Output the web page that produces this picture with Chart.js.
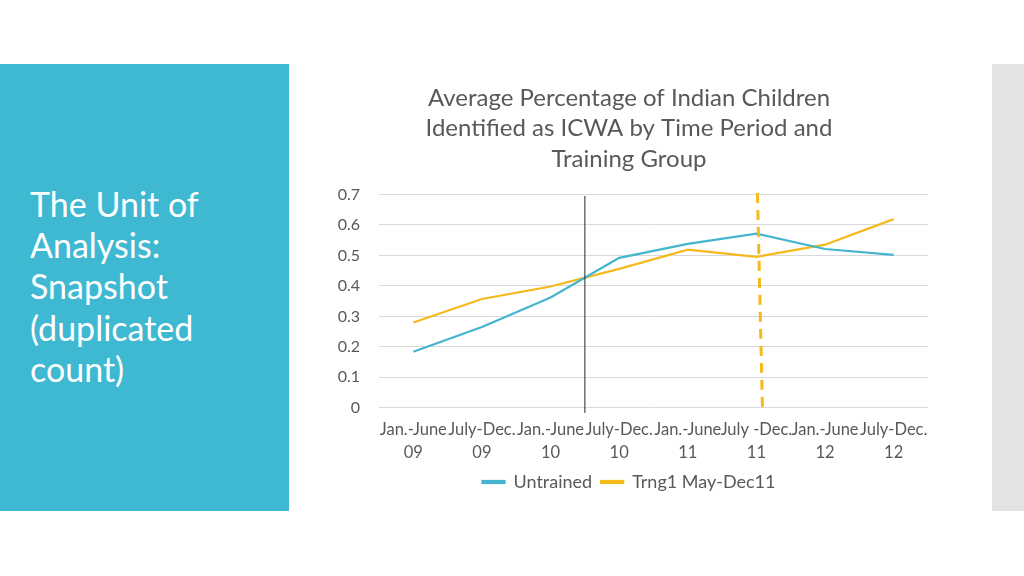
<!DOCTYPE html>
<html>
<head>
<meta charset="utf-8">
<script src="https://cdn.jsdelivr.net/npm/chart.js@4.4.1/dist/chart.umd.min.js"></script>
<style>
  html, body { margin: 0; padding: 0; width: 1024px; height: 576px; background: #ffffff; overflow: hidden; font-family: Lato, "Open Sans", sans-serif; }
  #leftPanel { position: absolute; left: 0; top: 64px; width: 289px; height: 447px; background: #3fb8d2; }
  #leftText { position: absolute; left: 30px; top: 183px; color: #ffffff; font-family: Lato, sans-serif; font-size: 34px; line-height: 41.2px; }
  #rightPanel { position: absolute; left: 992px; top: 64px; width: 32px; height: 447px; background: #e3e3e3; }
  #chartBox { position: absolute; left: 330px; top: 80px; width: 600px; height: 432px; }
</style>
</head>
<body>
<div id="leftPanel"></div>
<div id="leftText">The Unit of<br>Analysis:<br>Snapshot<br>(duplicated<br>count)</div>
<div id="rightPanel"></div>
<div id="chartBox"><canvas id="c"></canvas></div>
<script>
const categories = [
  ["Jan.-June", "09"], ["July-Dec.", "09"], ["Jan.-June", "10"], ["July-Dec.", "10"],
  ["Jan.-June", "11"], ["July -Dec.", "11"], ["Jan.-June", "12"], ["July-Dec.", "12"]
];
const untrained = [0.184, 0.265, 0.362, 0.492, 0.538, 0.571, 0.521, 0.502];
const trng1 = [0.280, 0.357, 0.398, 0.456, 0.519, 0.495, 0.535, 0.619];
const titleLines = ["Average Percentage of Indian Children", "Identified as ICWA by Time Period and", "Training Group"];
const seriesNames = ["Untrained", "Trng1 May-Dec11"];
const solidMarkerAt = 2.5;   // category position of black vertical line
const dashedMarkerAt = 5.0;  // category position of dashed vertical line

const TEAL = "#45b5cf";
const GOLD = "#f5b91c";
const GRAY = "#595959";

const markerPlugin = {
  id: "markers",
  afterDatasetsDraw(chart) {
    const { ctx, scales: { x, y } } = chart;
    ctx.save();
    const xs = x.getPixelForValue(solidMarkerAt);
    ctx.strokeStyle = "#262626";
    ctx.lineWidth = 1;
    ctx.beginPath();
    ctx.moveTo(xs, y.getPixelForValue(0.695));
    ctx.lineTo(xs, y.getPixelForValue(-0.017));
    ctx.stroke();
    const xd = x.getPixelForValue(dashedMarkerAt);
    ctx.strokeStyle = GOLD;
    ctx.lineWidth = 3;
    ctx.setLineDash([10, 7]);
    ctx.beginPath();
    ctx.moveTo(xd + 1, y.getPixelForValue(0.705));
    ctx.lineTo(xd + 6, y.getPixelForValue(0));
    ctx.stroke();
    ctx.restore();
  }
};

new Chart(document.getElementById("c"), {
  type: "line",
  data: {
    labels: categories,
    datasets: [
      { label: seriesNames[0], data: untrained, borderColor: TEAL, backgroundColor: TEAL, borderWidth: 2.25, pointRadius: 0, tension: 0 },
      { label: seriesNames[1], data: trng1, borderColor: GOLD, backgroundColor: GOLD, borderWidth: 2.25, pointRadius: 0, tension: 0 }
    ]
  },
  options: {
    responsive: true,
    maintainAspectRatio: false,
    animation: false,
    layout: { padding: { left: 0, right: 2, top: 0, bottom: 11 } },
    plugins: {
      title: {
        display: true,
        text: titleLines,
        color: GRAY,
        font: { family: "Lato", size: 24, weight: "normal", lineHeight: 1.27 },
        padding: { top: 3, bottom: 20 }
      },
      legend: {
        position: "bottom",
        labels: {
          color: GRAY,
          font: { family: "Lato", size: 18 },
          boxWidth: 22,
          boxHeight: 2,
          padding: 9
        }
      },
      tooltip: { enabled: false }
    },
    scales: {
      x: {
        offset: true,
        grid: { display: false, drawTicks: false },
        border: { display: false },
        afterFit(scale) { scale.height = scale.height - 10; scale.paddingLeft = 0; scale.paddingRight = 0; },
        ticks: { color: GRAY, font: { family: "Lato", size: 16.5, lineHeight: 1.4 }, maxRotation: 0, minRotation: 0, autoSkip: false, padding: 10 }
      },
      y: {
        min: 0, max: 0.7,
        grid: { color: "#d9d9d9", drawTicks: false, lineWidth: 1 },
        border: { display: false },
        afterFit(scale) { scale.width = 49; },
        ticks: { stepSize: 0.1, color: GRAY, font: { family: "Lato", size: 16 }, padding: 19,
          callback: v => (Math.round(v * 10) / 10).toString() }
      }
    }
  },
  plugins: [markerPlugin]
});
</script>
</body>
</html>
